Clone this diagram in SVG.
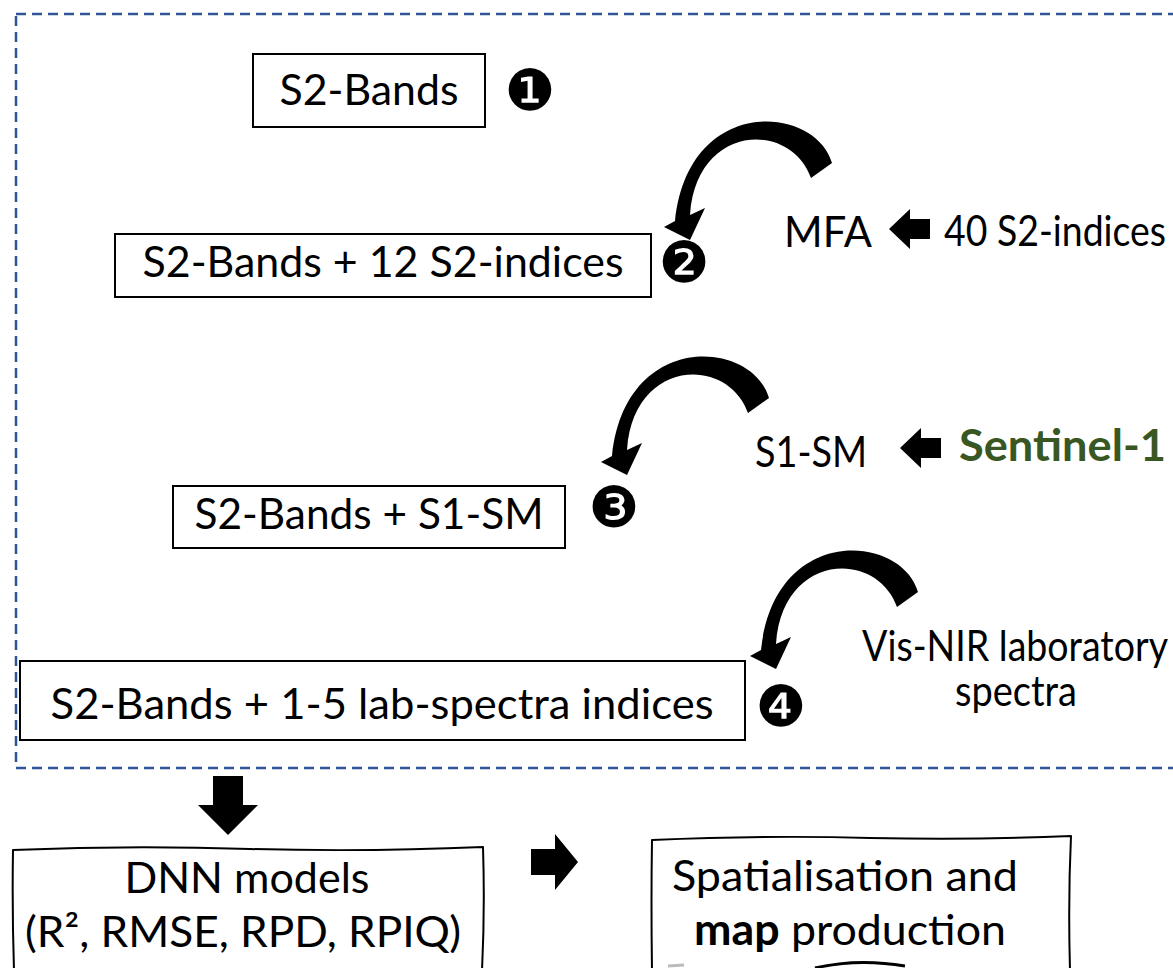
<svg xmlns="http://www.w3.org/2000/svg" xmlns:xlink="http://www.w3.org/1999/xlink" width="1173" height="968" viewBox="0 0 1173 968">
<style>
.box{fill:#fff;stroke:#000;stroke-width:2}
.sketch{fill:#fff;stroke:#000;stroke-width:2;stroke-linejoin:round}
.t{font-family:Lato,"Liberation Sans",sans-serif;font-size:43px;fill:#000}
.lbl{font-family:Lato,"Liberation Sans",sans-serif;font-size:42px;fill:#000}
.num{font-family:"DejaVu Sans",sans-serif;font-size:57px;fill:#000;text-anchor:middle}
.arr{fill:#000}
</style>
<defs>
<path id="curl" d="M 832,163 C 815,104 688,95 675,221 L 664,227 L 690,240 L 705,208 L 690,215 C 696,124 790,120 811,178 Z"/>
<polygon id="larr" points="0,0 21,-20 21,-10 41,-10 41,10 21,10 21,20"/>
</defs>
<rect x="16" y="14" width="1180" height="754" fill="none" stroke="#2F5597" stroke-width="2.5" stroke-dasharray="10 6"/>
<g id="box1">
<rect class="box" x="253" y="54" width="232" height="73"/>
<text class="t" x="369" y="105" text-anchor="middle" textLength="179" lengthAdjust="spacingAndGlyphs">S2-Bands</text>
<text class="num" x="530" y="109.5">❶</text>
</g>
<g id="box2">
<rect class="box" x="115" y="234" width="536" height="63"/>
<text class="t" x="383" y="277" text-anchor="middle" textLength="481" lengthAdjust="spacingAndGlyphs">S2-Bands + 12 S2-indices</text>
<text class="num" x="684" y="282">❷</text>
</g>
<g id="box3">
<rect class="box" x="173" y="486" width="392" height="62"/>
<text class="t" x="369" y="529" text-anchor="middle" textLength="349" lengthAdjust="spacingAndGlyphs">S2-Bands + S1-SM</text>
<text class="num" x="614" y="527">❸</text>
</g>
<g id="box4">
<rect class="box" x="20" y="661" width="725" height="79"/>
<text class="t" x="382" y="719" text-anchor="middle" textLength="663" lengthAdjust="spacingAndGlyphs">S2-Bands + 1-5 lab-spectra indices</text>
<text class="num" x="781" y="726">❹</text>
</g>
<g id="mfa">
<text class="lbl" x="784" y="247" textLength="88" lengthAdjust="spacingAndGlyphs">MFA</text>
</g>
<g id="s2indices">
<text class="lbl" x="944" y="246" textLength="222" lengthAdjust="spacingAndGlyphs">40 S2-indices</text>
</g>
<g id="s1sm">
<text class="lbl" x="755" y="467" textLength="112" lengthAdjust="spacingAndGlyphs">S1-SM</text>
</g>
<g id="sentinel1">
<text x="959" y="461" font-family="Lato,'Liberation Sans',sans-serif" font-weight="bold" font-size="43" fill="#385723" textLength="207" lengthAdjust="spacingAndGlyphs">Sentinel-1</text>
</g>
<g id="visnir">
<text class="lbl" x="862" y="661" textLength="306" lengthAdjust="spacingAndGlyphs">Vis-NIR laboratory</text>
<text class="lbl" x="1016" y="706" text-anchor="middle" textLength="122" lengthAdjust="spacingAndGlyphs">spectra</text>
</g>
<g id="dnn">
<path class="sketch" d="M 14,970 Q 12,910 13,850 Q 130,845 250,849 Q 370,852 483,847 Q 485,910 482,970"/>
<text class="t" x="247" y="893" text-anchor="middle" textLength="245" lengthAdjust="spacingAndGlyphs">DNN models</text>
<text class="t" x="243" y="947" text-anchor="middle" textLength="436" lengthAdjust="spacingAndGlyphs">(R², RMSE, RPD, RPIQ)</text>
</g>
<g id="map">
<path class="sketch" d="M 652,970 Q 651,900 652,840 Q 770,835 870,838 Q 980,840 1071,836 Q 1068,900 1070,970"/>
<text class="t" x="845" y="891" text-anchor="middle" textLength="346" lengthAdjust="spacingAndGlyphs">Spatialisation and</text>
<text class="t" x="850" y="945" text-anchor="middle" textLength="312" lengthAdjust="spacingAndGlyphs"><tspan font-weight="bold">map</tspan> production</text>
<path d="M 815,968 Q 858,958 905,966" fill="none" stroke="#000" stroke-width="3"/>
<path d="M 668,966 L 684,965" fill="none" stroke="#bbb" stroke-width="3"/>
</g>
<g id="connectors">
<use xlink:href="#curl" class="arr"/>
<use xlink:href="#curl" class="arr" transform="translate(-63,235)"/>
<use xlink:href="#curl" class="arr" transform="translate(86,429)"/>
<use xlink:href="#larr" class="arr" transform="translate(889,229)"/>
<use xlink:href="#larr" class="arr" transform="translate(900,448)"/>
<polygon class="arr" points="213,776 243,776 243,805 258,805 228,835 198,805 213,805"/>
<polygon class="arr" points="531,849 555,849 555,834 578,862 555,890 555,875 531,875"/>
</g>
</svg>
